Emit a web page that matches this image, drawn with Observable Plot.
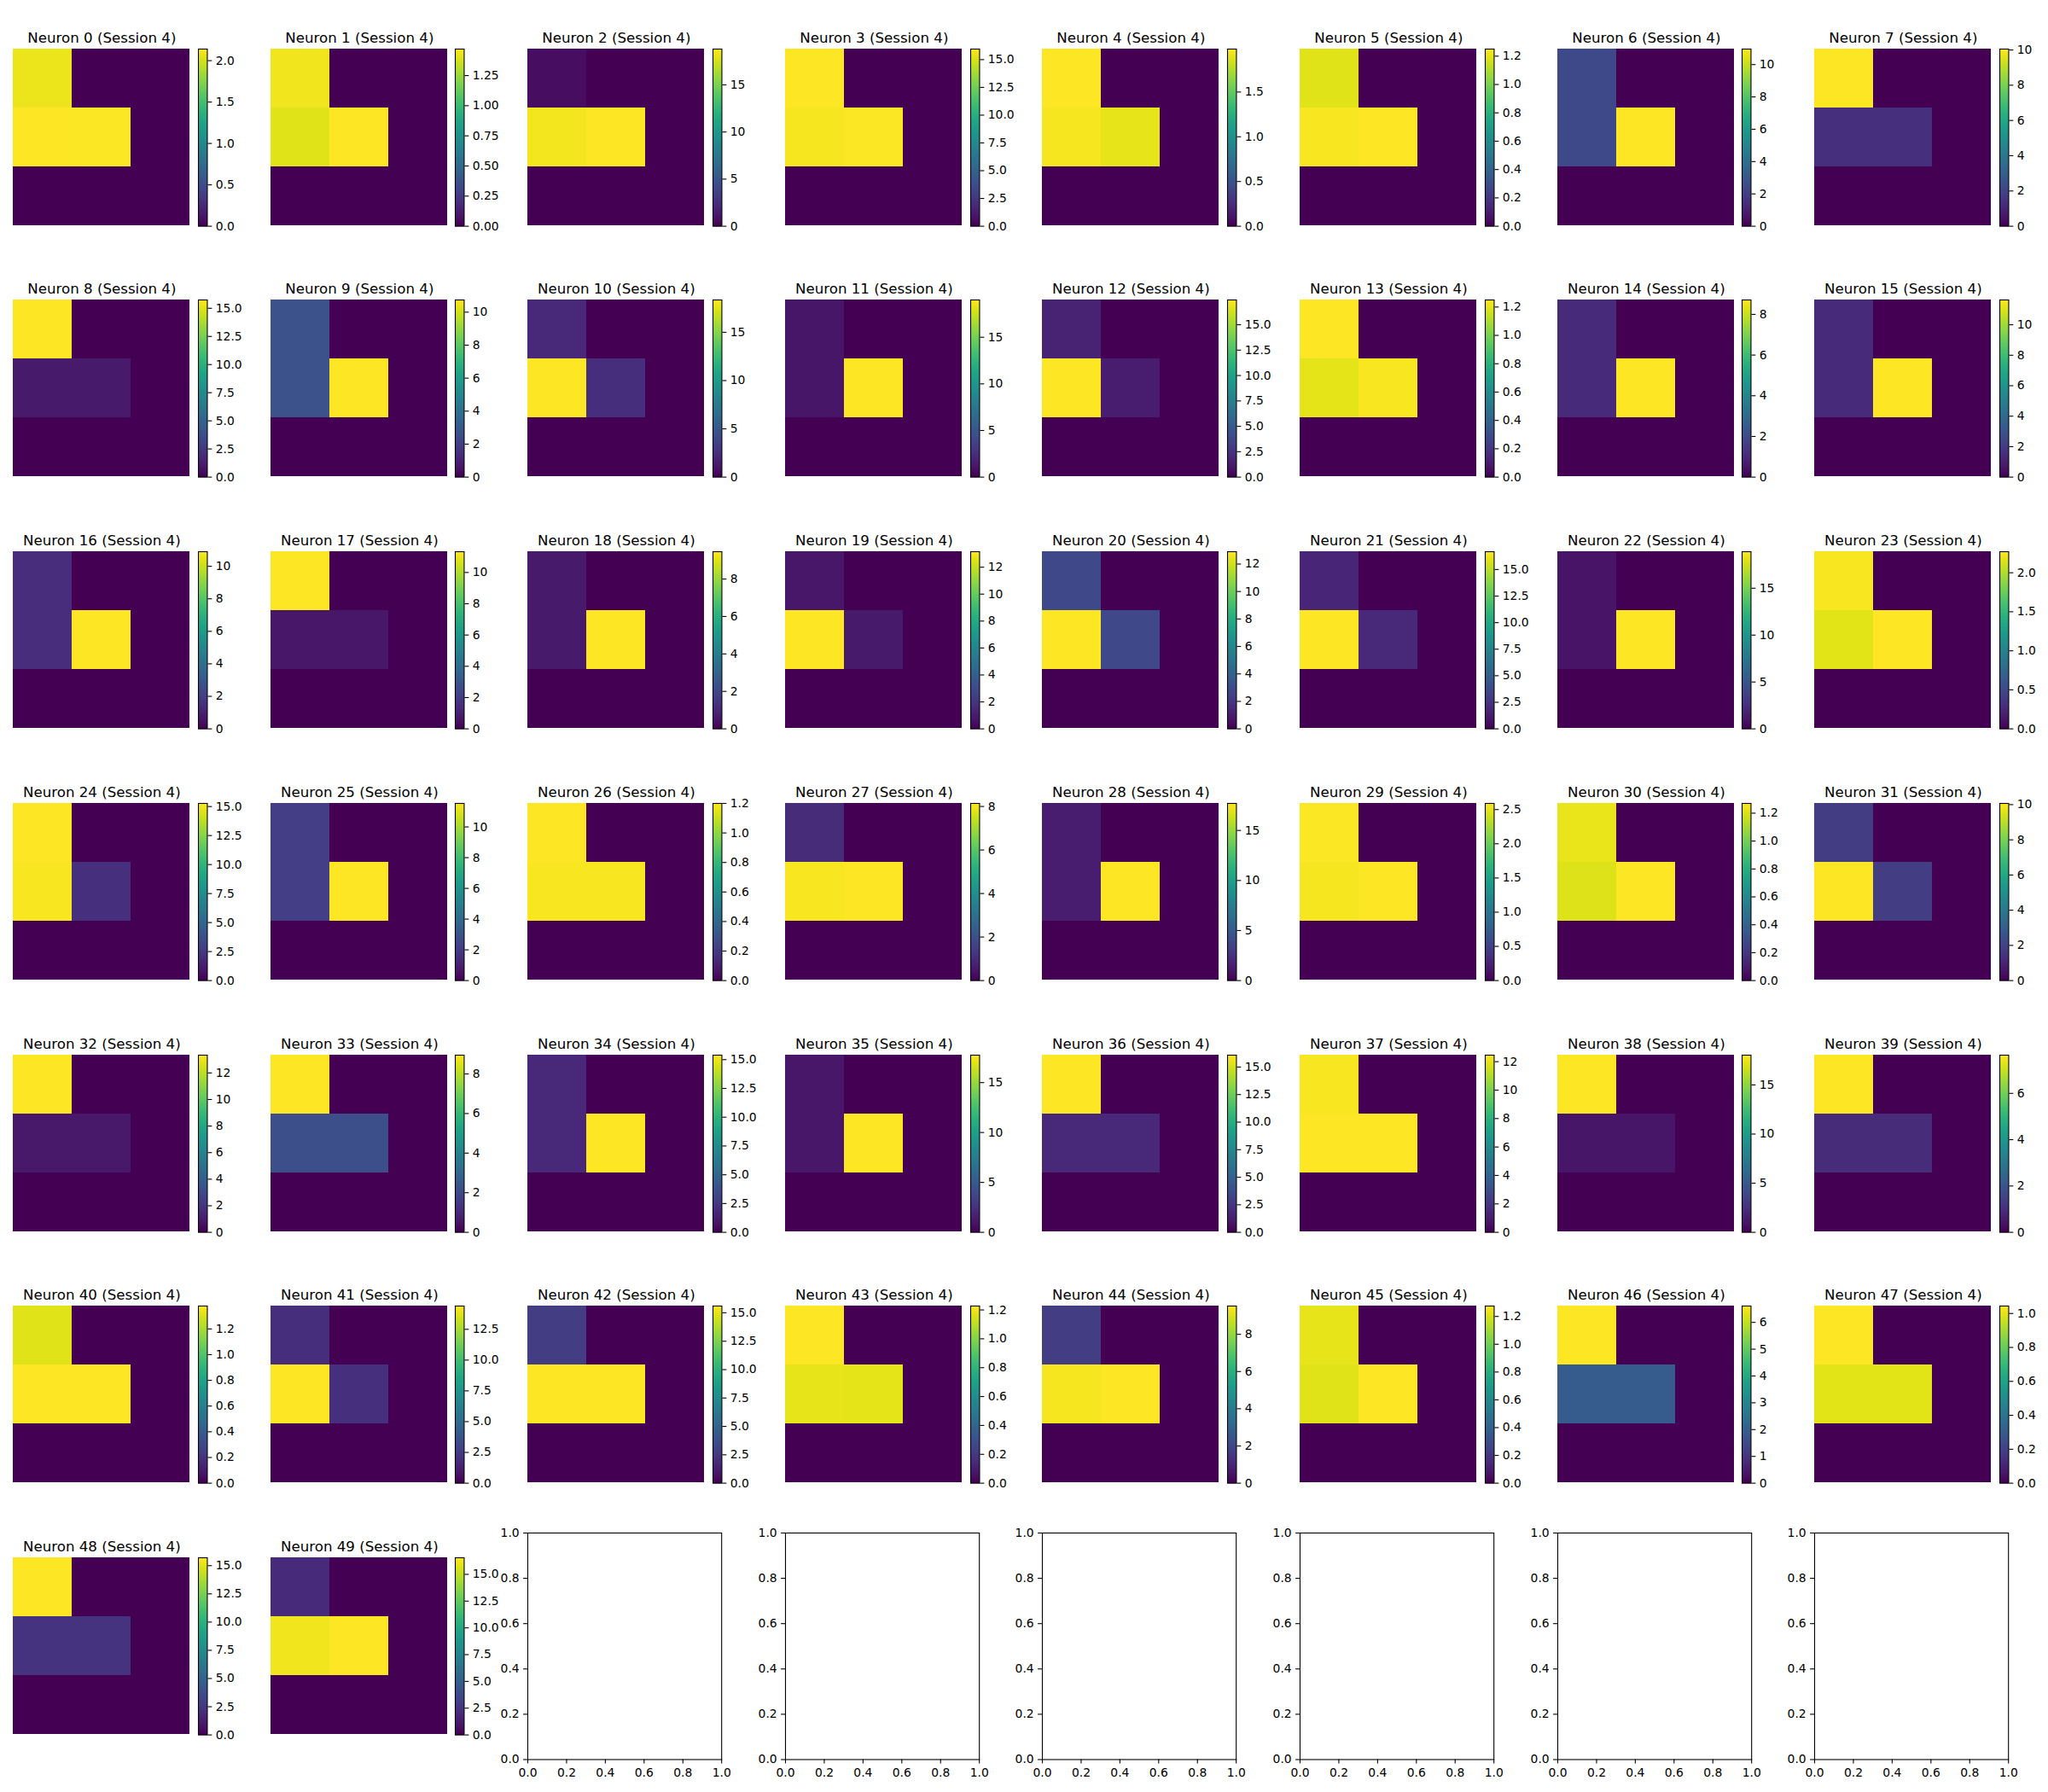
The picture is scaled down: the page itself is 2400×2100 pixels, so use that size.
<!DOCTYPE html>
<html><head><meta charset="utf-8">
<script src="https://cdn.jsdelivr.net/npm/d3@7"></script>
<script src="https://cdn.jsdelivr.net/npm/@observablehq/plot@0.6"></script>
<style>
body{margin:0;background:#fff;}
#fig{position:relative;width:2400px;height:2100px;background:#fff;overflow:hidden;}
#fig svg{position:absolute;overflow:visible;}
</style></head><body><div id="fig"></div>
<script>
// ---- data ----
const session = 4;
// 3x3 grid per neuron: only top-left, middle-left and middle-centre cells are non-zero
const topLeft = [2.08,1.44,0.6,15.95,1.98,1.19,2.4,10.05,15.74,2.7,
  2.1,1.1,1.7,1.25,1.05,1.4,1.4,11.33,0.65,0.8,
  2.8,1.7,1.0,2.25,15.27,2.1,1.2,1.0,1.4,2.57,
  1.23,1.8,13.34,8.95,1.7,1.1,16.08,12.35,18.03,7.65,
  1.31,1.9,2.8,1.227,1.7,1.23,6.61,1.044,15.7,2.0];
const midLeft = [2.14,1.40,18.5,15.75,1.95,1.24,2.4,1.4,1.1,2.7,
  18.35,1.1,17.44,1.20,1.05,1.4,1.4,0.7,0.65,13.15,
  12.9,16.68,1.0,2.17,15.15,2.1,1.19,8.05,1.4,2.55,
  1.205,10.07,0.85,2.15,1.7,1.1,1.8,12.46,1.0,0.95,
  1.375,14.39,15.55,1.18,9.4,1.215,1.9,0.997,2.3,16.2];
const midCentre = [2.13,1.47,18.8,15.85,1.91,1.25,10.96,1.4,1.1,10.74,
  2.4,19.0,1.4,1.24,8.71,11.63,10.9,0.7,9.46,0.9,
  2.8,1.9,18.9,2.27,2.1,11.53,1.19,8.14,17.7,2.59,
  1.27,1.8,0.85,2.15,15.39,17.75,1.8,12.45,1.0,0.95,
  1.378,2.0,15.6,1.175,9.52,1.275,1.9,0.997,2.3,16.55];
// colorbar tick spacing per neuron
const tickStep = [0.5,0.25,5,2.5,0.5,0.2,2,2,2.5,2,
  5,5,2.5,0.2,2,2,2,2,2,2,
  2,2.5,5,0.5,2.5,2,0.2,2,5,0.5,
  0.2,2,2,2,2.5,5,2.5,2,5,2,
  0.2,2.5,2.5,0.2,2,0.2,1,0.2,2.5,2.5];
const emptyTicks = [0, 0.2, 0.4, 0.6, 0.8, 1.0];
const nCols = 8, nRows = 7;

// ---- layout ----
const FONT = "DejaVu Sans";
const fig = document.getElementById("fig");
const colLeft = c => 15 + c * 301.6;
const axTop = r => 27.8 + r * 294.7;
const AXW = 227.2, AXH = 265.5;
const HS = AXW * (1 - 0.046 - 0.04);
const CBX = AXW * (1 - 0.046), CBW = AXW * 0.046;
const TICKFS = 13.9, TITLEFS = 16.67;

function place(svg, left, top) {
  svg.style.left = left + "px";
  svg.style.top = top + "px";
  fig.appendChild(svg);
}
function decimals(step) {
  const s = String(step);
  return s.includes(".") ? s.split(".")[1].length : 0;
}
const baseStyle = {fontFamily: FONT, background: "transparent", overflow: "visible", color: "black"};

for (let i = 0; i < topLeft.length; i++) {
  const r = Math.floor(i / nCols), c = i % nCols;
  const grid = [
    {row: 0, col: 0, v: topLeft[i]}, {row: 0, col: 1, v: 0}, {row: 0, col: 2, v: 0},
    {row: 1, col: 0, v: midLeft[i]}, {row: 1, col: 1, v: midCentre[i]}, {row: 1, col: 2, v: 0},
    {row: 2, col: 0, v: 0}, {row: 2, col: 1, v: 0}, {row: 2, col: 2, v: 0}
  ];
  const vmin = d3.min(grid, d => d.v), vmax = d3.max(grid, d => d.v);
  const color = {type: "linear", scheme: "viridis", domain: [vmin, vmax]};
  const left = colLeft(c);
  const hTop = axTop(r) + (AXH - HS) / 2;

  const MT = 32;
  const heat = Plot.plot({
    width: HS, height: HS + MT,
    marginTop: MT, marginLeft: 0, marginRight: 0, marginBottom: 0,
    style: baseStyle,
    x: {type: "band", domain: [0, 1, 2], padding: 0, axis: null},
    y: {type: "band", domain: [0, 1, 2], padding: 0, axis: null},
    color,
    marks: [
      Plot.cell(grid, {x: "col", y: "row", fill: "v", inset: 0, shapeRendering: "crispEdges"}),
      Plot.text([`Neuron ${i} (Session ${session})`], {
        text: d => d, frameAnchor: "top", lineAnchor: "bottom", dy: -7.6,
        fontSize: TITLEFS, fill: "black"
      })
    ]
  });
  place(heat, left, hTop - MT);

  // colorbar
  const step = tickStep[i];
  const nT = Math.floor(vmax / step + 1e-9);
  const ticks = d3.range(nT + 1).map(k => k * step);
  const dec = decimals(step);
  const CMT = 12, CMB = 12, CMR = 55;
  const ramp = Plot.raster
    ? Plot.raster({x1: 0, x2: 1, y1: vmin, y2: vmax, width: 1, height: 256, fill: (x, y) => y, imageRendering: "auto"})
    : Plot.rect(d3.range(256).map(k => vmin + (vmax - vmin) * k / 256), {
        x1: 0, x2: 1, y1: d => d, y2: d => d + (vmax - vmin) / 256 * 1.05,
        fill: d => d + (vmax - vmin) / 512, shapeRendering: "crispEdges"});
  const cbar = Plot.plot({
    width: CBW + CMR, height: HS + CMT + CMB,
    marginLeft: 0, marginRight: CMR, marginTop: CMT, marginBottom: CMB,
    style: baseStyle,
    x: {domain: [0, 1], axis: null},
    y: {domain: [vmin, vmax], axis: null},
    color,
    marks: [
      ramp,
      Plot.frame({stroke: "black", strokeWidth: 1.1}),
      Plot.axisY(ticks, {anchor: "right", tickSize: 4.9, tickPadding: 4.9,
        tickFormat: d => d.toFixed(dec), fontSize: TICKFS, label: null, strokeWidth: 1.1})
    ]
  });
  place(cbar, left + CBX, hTop - CMT);
}

// empty axes filling the rest of the last row
for (let k = topLeft.length; k < nRows * nCols; k++) {
  const r = Math.floor(k / nCols), c = k % nCols;
  const ML = 45, MB = 32, MT = 12, MR = 20;
  const ax = Plot.plot({
    width: AXW + ML + MR, height: AXH + MT + MB,
    marginLeft: ML, marginRight: MR, marginTop: MT, marginBottom: MB,
    style: baseStyle,
    x: {domain: [0, 1], axis: null},
    y: {domain: [0, 1], axis: null},
    marks: [
      Plot.frame({stroke: "black", strokeWidth: 1.1}),
      Plot.axisX(emptyTicks, {tickSize: 4.9, tickPadding: 4.9, tickFormat: d => d.toFixed(1),
        fontSize: TICKFS, label: null, strokeWidth: 1.1}),
      Plot.axisY(emptyTicks, {tickSize: 4.9, tickPadding: 4.9, tickFormat: d => d.toFixed(1),
        fontSize: TICKFS, label: null, strokeWidth: 1.1})
    ]
  });
  place(ax, colLeft(c) - ML, axTop(r) - MT);
}
</script></body></html>
